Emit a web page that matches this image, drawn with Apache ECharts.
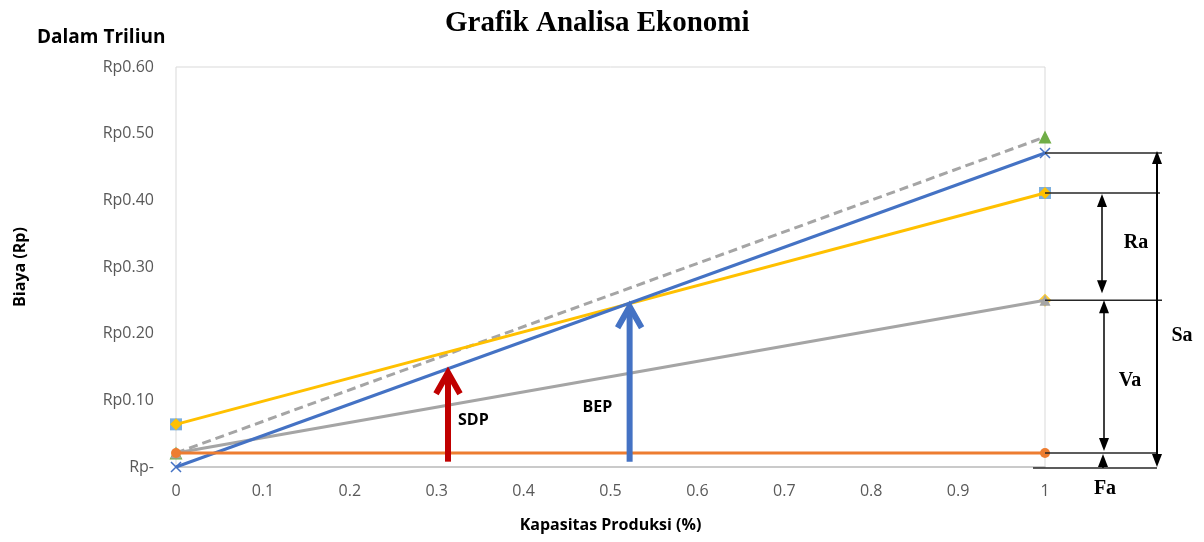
<!DOCTYPE html>
<html>
<head>
<meta charset="utf-8">
<script src="https://cdn.jsdelivr.net/npm/echarts@6/dist/echarts.min.js"></script>
<style>
html,body{margin:0;padding:0;background:#fff;}
#chart{width:1204px;height:542px;}
</style>
</head>
<body>
<div id="chart"></div>
<script>
// ---- data ----
const capacity = [0, 1];                 // Kapasitas Produksi (fraction)
const fixedCost = [0.021, 0.021];        // Fa
const variableCost = [0.021, 0.25];      // Va line
const totalCost = [0.064, 0.411];        // total cost line (yellow)
const sales = [0, 0.471];                // Sa line (blue)
const dashedLine = [0.021, 0.495];       // grey dashed line
const xTicks = [0, 0.1, 0.2, 0.3, 0.4, 0.5, 0.6, 0.7, 0.8, 0.9, 1];
const yTicks = [0, 0.1, 0.2, 0.3, 0.4, 0.5, 0.6];
const sdpPoint = [0.313, 0.146];
const bepPoint = [0.522, 0.245];
const arrowBase = 0.008;

const pairs = arr => capacity.map((x, i) => [x, arr[i]]);
const FONT = 'Open Sans';

const chart = echarts.init(document.getElementById('chart'));

const crossPath = 'path://M0,0L10,10M10,0L0,10';

chart.setOption({
  animation: false,
  backgroundColor: '#fff',
  title: {
    text: 'Grafik Analisa Ekonomi',
    left: 440, top: 4,
    textStyle: { fontFamily: 'Liberation Serif', fontWeight: 'bold', fontSize: 29, color: '#000' }
  },
  grid: { left: 176, right: 159, top: 67, bottom: 75, show: true, borderColor: '#d9d9d9', borderWidth: 1,
    containLabel: false, outerBoundsMode: 'none' },
  xAxis: {
    type: 'value', min: 0, max: 1, interval: 0.1,
    name: 'Kapasitas Produksi (%)', nameLocation: 'middle', nameGap: 50,
    nameTextStyle: { fontFamily: FONT, fontWeight: 'bold', fontSize: 16, color: '#000' },
    axisLine: { show: true, lineStyle: { color: '#bfbfbf', width: 1.5 } },
    axisTick: { show: false },
    splitLine: { show: false },
    axisLabel: { fontFamily: FONT, fontSize: 16, color: '#595959', margin: 16,
      formatter: v => String(xTicks.find(t => Math.abs(t - v) < 1e-9) ?? v) }
  },
  yAxis: {
    type: 'value', min: 0, max: 0.6, interval: 0.1,
    name: 'Biaya (Rp)', nameLocation: 'middle', nameGap: 148,
    nameTextStyle: { fontFamily: FONT, fontWeight: 'bold', fontSize: 16, color: '#000' },
    axisLine: { show: false },
    axisTick: { show: false },
    splitLine: { show: false },
    axisLabel: { fontFamily: FONT, fontSize: 16, color: '#595959', margin: 22,
      formatter: v => v === 0 ? 'Rp-' : 'Rp' + v.toFixed(2) }
  },
  series: [
    { name: 'Garis Putus', type: 'line', data: pairs(dashedLine),
      lineStyle: { color: '#A5A5A5', width: 3, type: [9, 5] },
      symbol: 'triangle', symbolSize: 13, itemStyle: { color: '#70AD47' }, z: 2 },
    { name: 'Blue marker', type: 'scatter', data: pairs(totalCost),
      symbol: 'rect', symbolSize: 12, itemStyle: { color: '#5B9BD5' }, z: 2 },
    { name: 'Yellow marker', type: 'scatter', data: pairs(variableCost).slice(1),
      symbol: 'diamond', symbolSize: 13, itemStyle: { color: '#FFC000' }, z: 2 },
    { name: 'Biaya Variabel', type: 'line', data: pairs(variableCost),
      lineStyle: { color: '#A5A5A5', width: 3 },
      symbol: 'triangle', symbolSize: 11, itemStyle: { color: '#A5A5A5' }, z: 3 },
    { name: 'Total Biaya', type: 'line', data: pairs(totalCost),
      lineStyle: { color: '#FFC000', width: 3 },
      symbol: 'diamond', symbolSize: 12, itemStyle: { color: '#FFC000' }, z: 3 },
    { name: 'Penjualan', type: 'line', data: pairs(sales),
      lineStyle: { color: '#4472C4', width: 3 },
      symbol: crossPath, symbolSize: 10,
      itemStyle: { color: 'rgba(0,0,0,0)', borderColor: '#4472C4', borderWidth: 1.5 }, z: 4 },
    { name: 'Biaya Tetap', type: 'line', data: pairs(fixedCost),
      lineStyle: { color: '#ED7D31', width: 3 },
      symbol: 'circle', symbolSize: 10, itemStyle: { color: '#ED7D31' }, z: 5 }
  ]
});

// ---- annotations ----
const px = p => chart.convertToPixel({ gridIndex: 0 }, p);
const g = [];

function upArrow(base, tip, color) {
  const b = px(base), t = px(tip);
  g.push({ type: 'line', shape: { x1: b[0], y1: b[1], x2: t[0], y2: t[1] + 3 },
    style: { stroke: color, lineWidth: 6 }, z: 100 });
  g.push({ type: 'polyline', shape: { points: [[t[0] - 12, t[1] + 24], [t[0], t[1] + 3], [t[0] + 12, t[1] + 24]] },
    style: { stroke: color, lineWidth: 6, fill: null, lineJoin: 'miter' }, z: 100 });
}
upArrow([sdpPoint[0], arrowBase], sdpPoint, '#C00000');
upArrow([bepPoint[0], arrowBase], bepPoint, '#4472C4');

const sdpLbl = px([sdpPoint[0], 0.07]);
const bepLbl = px([bepPoint[0], 0.09]);
g.push({ type: 'text', x: sdpLbl[0] + 10, y: sdpLbl[1], style: { text: 'SDP', fontFamily: FONT, fontWeight: 'bold', fontSize: 16, fill: '#000', textVerticalAlign: 'middle' }, z: 100 });
g.push({ type: 'text', x: bepLbl[0] - 47, y: bepLbl[1], style: { text: 'BEP', fontFamily: FONT, fontWeight: 'bold', fontSize: 16, fill: '#000', textVerticalAlign: 'middle' }, z: 100 });

// right-hand brackets
const xEnd = px([1, 0])[0];
const ySa = px([1, sales[1]])[1];
const yRa = px([1, totalCost[1]])[1];
const yVa = px([1, variableCost[1]])[1];
const yFa = px([1, fixedCost[1]])[1];
const y0 = px([1, 0])[1];
const LC = '#262626';
[[ySa, 1162], [yRa, 1160], [yVa, 1162], [yFa, 1158]].forEach(([y, x2]) => {
  g.push({ type: 'line', shape: { x1: xEnd, y1: y, x2: x2, y2: y }, style: { stroke: LC, lineWidth: 1.5 }, z: 90 });
});
g.push({ type: 'line', shape: { x1: xEnd - 12, y1: y0 + 1, x2: 1157, y2: y0 + 1 }, style: { stroke: LC, lineWidth: 1.5 }, z: 90 });

function head(x, y, dir) { // dir -1 up (tip at y), +1 down
  g.push({ type: 'polygon', shape: { points: [[x, y], [x - 5, y - dir * 13], [x + 5, y - dir * 13]] },
    style: { fill: '#000' }, z: 95 });
}
function dbl(x, yTop, yBot, w) {
  g.push({ type: 'line', shape: { x1: x, y1: yTop + 4, x2: x, y2: yBot - 4 }, style: { stroke: '#000', lineWidth: w }, z: 95 });
  head(x, yTop, -1); head(x, yBot, 1);
}
dbl(1157, ySa - 2, y0, 2);
dbl(1102, yRa + 1, yVa - 7, 1.5);
dbl(1104, yVa, yFa - 2, 1.5);
// Fa small arrow
g.push({ type: 'line', shape: { x1: 1103, y1: yFa + 6, x2: 1103, y2: y0 + 1 }, style: { stroke: '#000', lineWidth: 1.5 }, z: 95 });
head(1103, yFa + 1, -1);

const serif = { fontFamily: 'Liberation Serif', fontWeight: 'bold', fontSize: 20, fill: '#000', textAlign: 'center', textVerticalAlign: 'middle' };
g.push({ type: 'text', x: 1136, y: (yRa + yVa) / 2 - 4, style: Object.assign({ text: 'Ra' }, serif), z: 100 });
g.push({ type: 'text', x: 1130, y: (yVa + yFa) / 2 + 4, style: Object.assign({ text: 'Va' }, serif), z: 100 });
g.push({ type: 'text', x: 1182, y: (ySa + y0) / 2 + 26, style: Object.assign({ text: 'Sa' }, serif), z: 100 });
g.push({ type: 'text', x: 1105, y: y0 + 22, style: Object.assign({ text: 'Fa' }, serif), z: 100 });

// "Dalam Triliun" label
g.push({ type: 'text', x: 37, y: 38, style: { text: 'Dalam Triliun', fontFamily: FONT, fontWeight: 'bold', fontSize: 19, fill: '#000', textVerticalAlign: 'middle' }, z: 100 });

chart.setOption({ graphic: g });
</script>
</body>
</html>
